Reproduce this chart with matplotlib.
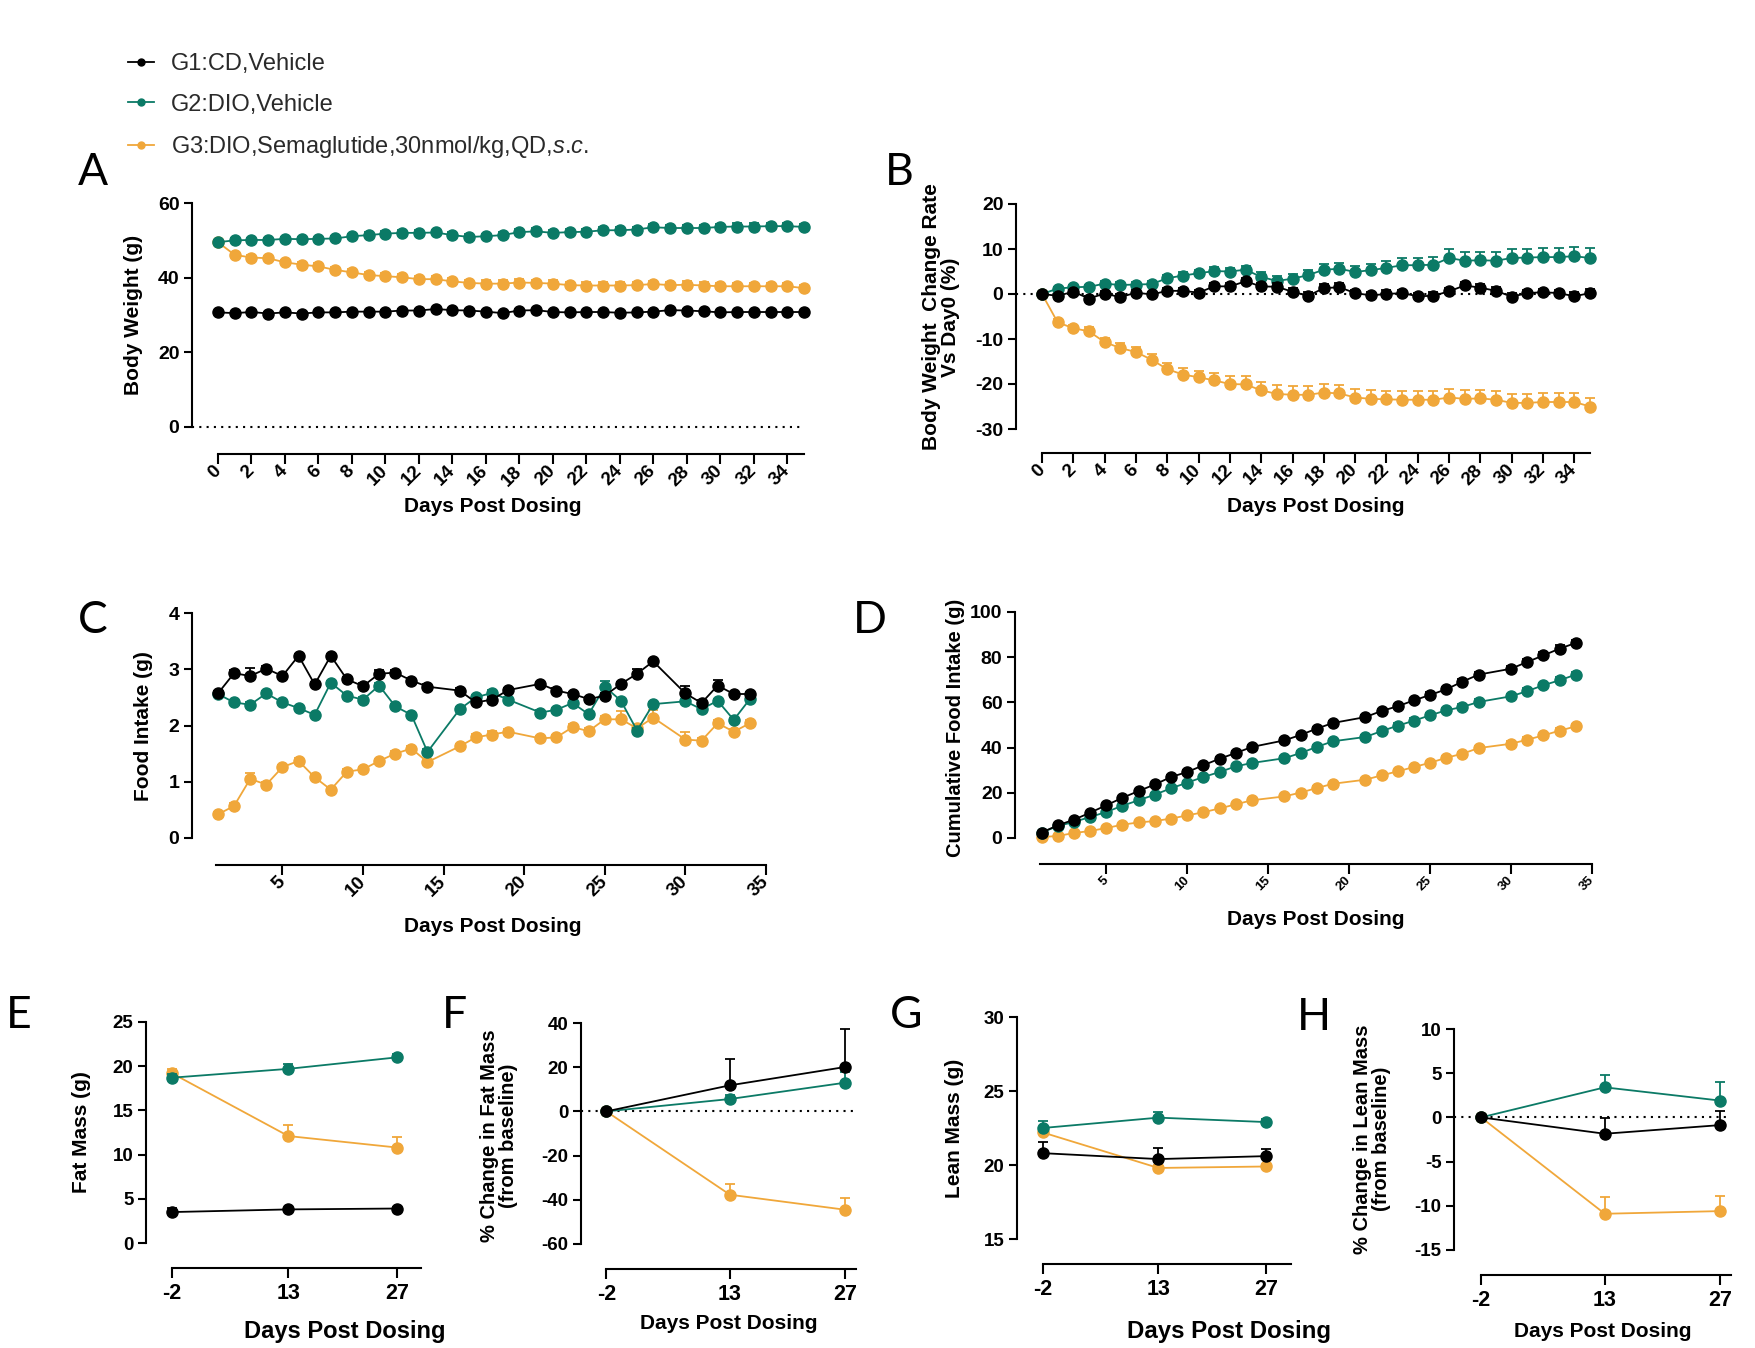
import numpy as np
import matplotlib
matplotlib.use('Agg')
import matplotlib.pyplot as plt
from matplotlib.lines import Line2D

W, H = 1756, 1348
plt.rcParams['font.family'] = ['Liberation Sans', 'DejaVu Sans']
plt.rcParams['mathtext.fontset'] = 'custom'
plt.rcParams['mathtext.it'] = 'Liberation Sans:italic'
plt.rcParams['mathtext.rm'] = 'Liberation Sans'
plt.rcParams['axes.unicode_minus'] = False

BLACK, TEAL, ORANGE = '#000000', '#0b7a66', '#f0a73a'
group_labels = ['G1:CD,Vehicle', 'G2:DIO,Vehicle',
                r'G3:DIO,Semaglutide,30nmol/kg,QD,$\mathit{s}$.$\mathit{c}$.']

# ---------------- Panel A: body weight ----------------
bw_days = list(range(0, 36))
bw_g1 = [30.7, 30.5, 30.8, 30.4, 30.7, 30.4, 30.7, 30.7, 30.9, 30.9,
         30.9, 31.2, 31.2, 31.6, 31.3, 31.2, 30.9, 30.5, 31.2, 31.3,
         30.8, 30.7, 30.8, 30.8, 30.6, 30.7, 30.9, 31.3, 31.2, 31.0,
         30.7, 30.8, 30.8, 30.8, 30.8, 30.8]
bw_g2 = [49.5, 50.0, 50.1, 50.1, 50.4, 50.3, 50.4, 50.5, 51.1, 51.4,
         51.8, 52.0, 52.0, 52.1, 51.4, 50.9, 51.1, 51.4, 52.2, 52.4,
         52.0, 52.2, 52.3, 52.7, 52.7, 52.9, 53.5, 53.3, 53.3, 53.3,
         53.6, 53.7, 53.7, 53.8, 53.8, 53.6]
bw_g3 = [49.5, 46.1, 45.4, 45.2, 44.1, 43.5, 43.0, 42.1, 41.4, 40.7,
         40.4, 40.1, 39.6, 39.6, 39.0, 38.6, 38.4, 38.4, 38.7, 38.6,
         38.4, 38.0, 37.9, 37.9, 37.9, 38.0, 38.3, 38.0, 38.1, 37.9,
         37.7, 37.7, 37.7, 37.7, 37.7, 37.2]
bw_g1_err = [0.3, 0.3, 0.3, 0.3, 0.3, 0.3, 0.3, 0.3, 0.3, 0.3,
             0.4, 0.4, 0.4, 0.4, 0.4, 0.4, 0.4, 0.4, 0.4, 0.4,
             0.4, 0.4, 0.4, 0.4, 0.4, 0.4, 0.4, 0.4, 0.4, 0.4,
             0.4, 0.4, 0.4, 0.4, 0.4, 0.4]
bw_g2_err = [0.6, 0.6, 0.6, 0.6, 0.6, 0.6, 0.6, 0.6, 0.7, 0.7,
             0.7, 0.7, 0.7, 0.7, 0.7, 0.7, 0.7, 0.7, 0.8, 0.8,
             0.8, 0.8, 0.8, 0.8, 0.8, 0.8, 0.9, 0.9, 0.9, 0.9,
             0.9, 0.9, 0.9, 0.9, 0.9, 0.9]
bw_g3_err = [0.6, 0.7, 0.7, 0.7, 0.7, 0.8, 0.8, 0.8, 0.9, 0.9,
             0.9, 0.9, 0.9, 0.9, 0.9, 0.9, 0.9, 0.9, 0.9, 0.9,
             0.9, 0.9, 0.9, 0.9, 0.9, 0.9, 0.9, 0.9, 0.9, 0.9,
             0.9, 0.9, 0.9, 0.9, 0.9, 0.9]

# ---------------- Panel B: body weight change rate ----------------
cr_g1 = [0.0, -0.4, 0.5, -1.0, 0.1, -0.7, 0.3, -0.1, 0.7, 0.7,
         0.3, 1.7, 1.7, 2.8, 1.7, 1.6, 0.5, -0.4, 1.3, 1.5,
         0.2, -0.3, 0.0, 0.2, -0.5, -0.4, 0.6, 1.9, 1.4, 0.7,
         -0.6, 0.2, 0.4, 0.2, -0.5, 0.2]
cr_g2 = [0.0, 1.2, 1.5, 1.6, 2.3, 2.0, 2.1, 2.2, 3.5, 4.1,
         4.6, 5.1, 5.0, 5.4, 3.8, 2.9, 3.4, 4.2, 5.4, 5.6,
         4.9, 5.3, 5.8, 6.4, 6.4, 6.5, 8.0, 7.4, 7.5, 7.4,
         8.0, 8.1, 8.2, 8.2, 8.4, 8.0]
cr_g3 = [0.0, -6.3, -7.6, -8.3, -10.7, -12.0, -12.9, -14.6, -16.7, -17.9,
         -18.5, -19.2, -20.0, -20.1, -21.4, -22.2, -22.4, -22.4, -21.9, -22.1,
         -23.0, -23.3, -23.4, -23.5, -23.5, -23.5, -23.0, -23.3, -23.2, -23.5,
         -24.2, -24.2, -24.0, -24.0, -24.0, -25.0]
cr_g1_err = [0.0, 0.5, 0.5, 0.6, 0.6, 0.6, 0.6, 0.6, 0.7, 0.7,
             0.7, 0.7, 0.7, 0.8, 0.8, 0.8, 0.8, 0.8, 0.9, 0.9,
             0.8, 0.8, 0.8, 0.8, 0.8, 0.8, 0.8, 0.8, 0.8, 0.8,
             0.8, 0.8, 0.8, 0.8, 0.9, 0.9]
cr_g2_err = [0.0, 0.4, 0.5, 0.5, 0.6, 0.6, 0.6, 0.7, 0.7, 0.8,
             0.8, 0.8, 0.8, 0.8, 1.0, 1.0, 1.0, 1.1, 1.2, 1.3,
             1.3, 1.4, 1.5, 1.6, 1.6, 1.7, 2.1, 1.9, 1.9, 1.9,
             2.0, 2.0, 2.1, 2.1, 2.1, 2.2]
cr_g3_err = [0.0, 0.8, 0.8, 0.9, 1.0, 1.1, 1.2, 1.2, 1.3, 1.4,
             1.5, 1.6, 1.8, 1.9, 1.9, 1.9, 1.9, 1.9, 1.9, 1.9,
             1.8, 1.9, 1.9, 1.9, 1.9, 1.9, 1.9, 1.9, 1.9, 1.9,
             1.9, 2.0, 2.0, 2.0, 2.0, 2.0]

# ---------------- Panels C and D: food intake ----------------
fi_days = [1, 2, 3, 4, 5, 6, 7, 8, 9, 10, 11, 12, 13, 14,
           16, 17, 18, 19, 21, 22, 23, 24, 25, 26, 27, 28,
           30, 31, 32, 33, 34]
fi_g1 = [2.57, 2.93, 2.88, 3.01, 2.88, 3.24, 2.73, 3.24, 2.82, 2.70,
         2.92, 2.94, 2.80, 2.69, 2.62, 2.41, 2.46, 2.63, 2.74, 2.62,
         2.56, 2.47, 2.53, 2.74, 2.92, 3.14, 2.57, 2.40, 2.71, 2.56, 2.56]
fi_g2 = [2.56, 2.41, 2.37, 2.57, 2.41, 2.31, 2.19, 2.76, 2.53, 2.46,
         2.71, 2.34, 2.19, 1.53, 2.29, 2.50, 2.58, 2.46, 2.23, 2.28,
         2.40, 2.20, 2.69, 2.44, 1.91, 2.38, 2.43, 2.29, 2.44, 2.10, 2.47]
fi_g3 = [0.42, 0.57, 1.05, 0.95, 1.26, 1.37, 1.08, 0.86, 1.18, 1.22,
         1.37, 1.50, 1.59, 1.35, 1.63, 1.79, 1.84, 1.89, 1.77, 1.79,
         1.97, 1.90, 2.11, 2.11, 1.95, 2.14, 1.75, 1.73, 2.04, 1.89, 2.04]
fi_g1_err = [0.04, 0.06, 0.14, 0.05, 0.04, 0.04, 0.05, 0.04, 0.04, 0.06,
             0.06, 0.04, 0.04, 0.04, 0.04, 0.05, 0.05, 0.04, 0.04, 0.04,
             0.04, 0.04, 0.04, 0.04, 0.08, 0.04, 0.14, 0.05, 0.10, 0.04, 0.04]
fi_g2_err = [0.04, 0.04, 0.04, 0.04, 0.04, 0.04, 0.04, 0.04, 0.04, 0.04,
             0.04, 0.04, 0.04, 0.05, 0.04, 0.05, 0.05, 0.04, 0.04, 0.04,
             0.04, 0.04, 0.10, 0.04, 0.04, 0.04, 0.04, 0.04, 0.04, 0.04, 0.04]
fi_g3_err = [0.04, 0.05, 0.10, 0.05, 0.04, 0.05, 0.05, 0.04, 0.04, 0.04,
             0.04, 0.04, 0.04, 0.04, 0.04, 0.06, 0.06, 0.05, 0.04, 0.04,
             0.06, 0.05, 0.06, 0.14, 0.05, 0.13, 0.13, 0.05, 0.06, 0.05, 0.05]

cfi_g1 = [2.4, 5.6, 8.1, 11.2, 14.5, 17.8, 20.8, 23.7, 27.0, 29.2,
          32.2, 35.1, 37.6, 40.3, 43.2, 45.6, 48.4, 50.9, 53.5, 56.2,
          58.3, 60.9, 63.3, 65.8, 69.2, 72.3, 74.9, 77.9, 80.8, 83.8, 86.3]
cfi_g2 = [2.4, 5.3, 7.1, 9.3, 11.5, 14.3, 16.7, 19.2, 22.0, 24.5,
          27.0, 29.2, 31.7, 33.2, 35.3, 37.6, 40.3, 42.8, 44.7, 47.3,
          49.7, 51.9, 54.3, 56.5, 58.0, 60.2, 62.7, 65.0, 67.6, 69.8, 72.3]
cfi_g3 = [0.4, 0.9, 2.2, 3.1, 4.4, 5.9, 6.9, 7.5, 8.6, 10.0,
          11.4, 13.1, 14.9, 16.7, 18.4, 20.1, 22.1, 24.0, 25.8, 27.7,
          29.5, 31.4, 33.3, 35.5, 37.3, 39.8, 41.7, 43.5, 45.4, 47.5, 49.4]
cfi_g1_err = [0.2, 0.3, 0.4, 0.4, 0.5, 0.5, 0.6, 0.6, 0.7, 0.7,
              0.7, 0.8, 0.8, 0.8, 0.9, 0.9, 0.9, 1.0, 1.0, 1.0,
              1.1, 1.1, 1.1, 1.2, 1.2, 1.2, 1.3, 1.3, 1.3, 1.4, 1.4]
cfi_g2_err = [0.2, 0.3, 0.3, 0.4, 0.4, 0.5, 0.5, 0.5, 0.6, 0.6,
              0.6, 0.7, 0.7, 0.7, 0.8, 0.8, 0.8, 0.9, 0.9, 0.9,
              1.0, 1.0, 1.0, 1.1, 1.1, 1.1, 1.2, 1.2, 1.2, 1.3, 1.3]
cfi_g3_err = [0.1, 0.1, 0.2, 0.2, 0.3, 0.3, 0.3, 0.4, 0.4, 0.4,
              0.5, 0.5, 0.5, 0.6, 0.6, 0.6, 0.7, 0.7, 0.7, 0.8,
              0.8, 0.8, 0.9, 0.9, 0.9, 1.0, 1.0, 1.0, 1.1, 1.1, 1.1]

# ---------------- Panels E-H: body composition ----------------
comp_days = [-2, 13, 27]
fat_g1, fat_g1_err = [3.5, 3.8, 3.9], [0.5, 0.2, 0.2]
fat_g2, fat_g2_err = [18.7, 19.7, 21.0], [0.4, 0.6, 0.4]
fat_g3, fat_g3_err = [19.2, 12.1, 10.8], [0.5, 1.2, 1.2]
fatpct_g1, fatpct_g1_err = [0.0, 11.8, 20.1], [0.0, 11.7, 17.4]
fatpct_g2, fatpct_g2_err = [0.0, 5.6, 13.0], [0.0, 2.0, 5.0]
fatpct_g3, fatpct_g3_err = [0.0, -37.7, -44.5], [0.0, 4.8, 5.3]
lean_g1, lean_g1_err = [20.8, 20.4, 20.6], [0.75, 0.75, 0.5]
lean_g2, lean_g2_err = [22.5, 23.2, 22.9], [0.5, 0.4, 0.2]
lean_g3, lean_g3_err = [22.2, 19.8, 19.9], [0.2, 0.2, 0.2]
leanpct_g1, leanpct_g1_err = [0.0, -1.85, -0.87], [0.0, 1.8, 1.6]
leanpct_g2, leanpct_g2_err = [0.0, 3.4, 1.9], [0.0, 1.4, 2.1]
leanpct_g3, leanpct_g3_err = [0.0, -10.9, -10.6], [0.0, 1.9, 1.7]

fig = plt.figure(figsize=(W / 100, H / 100), dpi=100)


def make_ax(xlim, ylim, px_x0, px_x1, px_top, px_bot, out_px, xbounds,
            xticks, yticks):
    ax = fig.add_axes([px_x0 / W, 1 - px_bot / H, (px_x1 - px_x0) / W,
                       (px_bot - px_top) / H])
    ax.set_xlim(xlim)
    ax.set_ylim(ylim)
    ax.patch.set_alpha(0)
    for s in ('top', 'right'):
        ax.spines[s].set_visible(False)
    ax.spines['bottom'].set_position(('outward', out_px * 0.72))
    ax.spines['bottom'].set_bounds(*xbounds)
    ax.spines['left'].set_bounds(*ylim)
    for s in ('bottom', 'left'):
        ax.spines[s].set_linewidth(1.5)
    ax.set_xticks(xticks)
    ax.set_yticks(yticks)
    ax.tick_params(axis='both', width=1.5, direction='out', color='black')
    ax.tick_params(axis='y', length=6, pad=3)
    ax.tick_params(axis='x', length=7)
    return ax


def series(ax, x, y, err, color, z, ms=8):
    err = np.asarray(err)
    ax.errorbar(x, y, yerr=[np.zeros_like(err), err], fmt='-o', color=color,
                ms=ms, lw=1.3, elinewidth=1.3, capsize=3.5, capthick=1.3,
                clip_on=False, zorder=z)


def style_ticks(ax, xsize, ysize, rot=False):
    for lab in ax.get_yticklabels():
        lab.set_fontsize(ysize)
        lab.set_fontweight('bold')
    for lab in ax.get_xticklabels():
        lab.set_fontsize(xsize)
        lab.set_fontweight('bold')
        if rot:
            lab.set_rotation(45)
            lab.set_ha('right')
            lab.set_va('center')
            lab.set_rotation_mode('anchor')


def labels(ax, xl, xc, xtop, xsize, yl, yr, yc, ysize):
    ax.set_xlabel(xl, fontsize=xsize, fontweight='bold')
    ax.xaxis.set_label_coords(xc / W, 1 - xtop / H, transform=fig.transFigure)
    ax.set_ylabel(yl, fontsize=ysize, fontweight='bold', linespacing=1.0)
    ax.yaxis.set_label_coords(yr / W, 1 - yc / H, transform=fig.transFigure)


def zero_line(ax):
    ax.axhline(0, color='black', lw=1.5, ls=(0, (1, 2.5)), zorder=1,
               clip_on=False)


# Panel A
axA = make_ax((-1.55, 35), (0, 60), 192, 804, 203, 427, 27, (0, 35),
              list(range(0, 35, 2)), [0, 20, 40, 60])
zero_line(axA)
series(axA, bw_days, bw_g3, bw_g3_err, ORANGE, 3)
series(axA, bw_days, bw_g2, bw_g2_err, TEAL, 4)
series(axA, bw_days, bw_g1, bw_g1_err, BLACK, 5)
style_ticks(axA, 13.5, 14, rot=True)
labels(axA, 'Days Post Dosing', 493, 497, 15, 'Body Weight (g)', 143, 315, 15)

# Panel B
axB = make_ax((-1.66, 35), (-30, 20), 1016, 1590, 204, 429, 24, (0, 35),
              list(range(0, 35, 2)), [-30, -20, -10, 0, 10, 20])
zero_line(axB)
series(axB, bw_days, cr_g3, cr_g3_err, ORANGE, 3)
series(axB, bw_days, cr_g2, cr_g2_err, TEAL, 4)
series(axB, bw_days, cr_g1, cr_g1_err, BLACK, 5)
style_ticks(axB, 13.5, 14, rot=True)
labels(axB, 'Days Post Dosing', 1316, 497, 15,
       'Body Weight  Change Rate\nVs Day0 (%)', 960, 317, 15)

# Panel C
axC = make_ax((-0.61, 35), (0, 4), 192, 766, 613, 838, 27, (0.9, 35),
              [5, 10, 15, 20, 25, 30, 35], [0, 1, 2, 3, 4])
series(axC, fi_days, fi_g3, fi_g3_err, ORANGE, 3)
series(axC, fi_days, fi_g2, fi_g2_err, TEAL, 4)
series(axC, fi_days, fi_g1, fi_g1_err, BLACK, 5)
style_ticks(axC, 13.5, 14, rot=True)
labels(axC, 'Days Post Dosing', 493, 917, 15, 'Food Intake (g)', 153, 726, 15)

# Panel D
axD = make_ax((-0.64, 35), (0, 100), 1015, 1592, 612, 838, 26, (0.9, 35),
              [5, 10, 15, 20, 25, 30, 35], [0, 20, 40, 60, 80, 100])
series(axD, fi_days, cfi_g3, cfi_g3_err, ORANGE, 3)
series(axD, fi_days, cfi_g2, cfi_g2_err, TEAL, 4)
series(axD, fi_days, cfi_g1, cfi_g1_err, BLACK, 5)
style_ticks(axD, 9.5, 14, rot=True)
labels(axD, 'Days Post Dosing', 1316, 910, 15,
       'Cumulative Food Intake (g)', 965, 728, 14.5)

# Panel E
axE = make_ax((-5.35, 30.1), (0, 25), 146, 421, 1022, 1243, 25, (-2, 30.1),
              comp_days, [0, 5, 10, 15, 20, 25])
series(axE, comp_days, fat_g3, fat_g3_err, ORANGE, 3)
series(axE, comp_days, fat_g2, fat_g2_err, TEAL, 4)
series(axE, comp_days, fat_g1, fat_g1_err, BLACK, 5)
style_ticks(axE, 15.5, 13.5)
labels(axE, 'Days Post Dosing', 345, 1320, 17, 'Fat Mass (g)', 91, 1132, 15)

# Panel F
axF = make_ax((-5.07, 28.3), (-60, 40), 581, 856, 1023, 1244, 25, (-2, 28.3),
              comp_days, [-60, -40, -20, 0, 20, 40])
zero_line(axF)
series(axF, comp_days, fatpct_g3, fatpct_g3_err, ORANGE, 3)
series(axF, comp_days, fatpct_g2, fatpct_g2_err, TEAL, 4)
series(axF, comp_days, fatpct_g1, fatpct_g1_err, BLACK, 5)
style_ticks(axF, 15.5, 13.5)
labels(axF, 'Days Post Dosing', 729, 1314, 15,
       '% Change in Fat Mass\n(from baseline)', 518, 1136, 14.5)

# Panel G
axG = make_ax((-5.34, 30.2), (15, 30), 1017, 1291, 1017, 1239, 25, (-2, 30.2),
              comp_days, [15, 20, 25, 30])
series(axG, comp_days, lean_g3, lean_g3_err, ORANGE, 3)
series(axG, comp_days, lean_g2, lean_g2_err, TEAL, 4)
series(axG, comp_days, lean_g1, lean_g1_err, BLACK, 5)
style_ticks(axG, 15.5, 13.5)
labels(axG, 'Days Post Dosing', 1229, 1320, 17.3, 'Lean Mass (g)', 964, 1128, 15)

# Panel H
axH = make_ax((-5.28, 28.3), (-15, 10), 1454, 1731, 1029, 1250, 25, (-2, 28.3),
              comp_days, [-15, -10, -5, 0, 5, 10])
zero_line(axH)
series(axH, comp_days, leanpct_g3, leanpct_g3_err, ORANGE, 3)
series(axH, comp_days, leanpct_g2, leanpct_g2_err, TEAL, 4)
series(axH, comp_days, leanpct_g1, leanpct_g1_err, BLACK, 5)
style_ticks(axH, 15.5, 13.5)
labels(axH, 'Days Post Dosing', 1603, 1322, 15,
       '% Change in Lean Mass\n(from baseline)', 1391, 1139, 14.5)

# Panel letters
for letter, px, py in [('A', 78, 185), ('B', 885, 185), ('C', 78, 633),
                       ('D', 853, 633), ('E', 6, 1028), ('F', 442, 1028),
                       ('G', 890, 1028), ('H', 1297, 1030)]:
    fig.text(px / W, 1 - py / H, letter, fontsize=32, va='baseline',
             ha='left', family=['Lato', 'DejaVu Sans'])

# Legend
handles = [Line2D([], [], color=c, marker='o', ms=5, lw=1.3)
           for c in (BLACK, TEAL, ORANGE)]
leg = fig.legend(handles, group_labels, loc='center left',
                 bbox_to_anchor=(119 / W, 1 - 106.5 / H), frameon=False,
                 fontsize=17, handlelength=1.1, handletextpad=0.7,
                 labelspacing=0.79, borderaxespad=0)
for t in leg.get_texts():
    t.set_color('#2a2a2a')

fig.savefig('out.png', dpi=100)
